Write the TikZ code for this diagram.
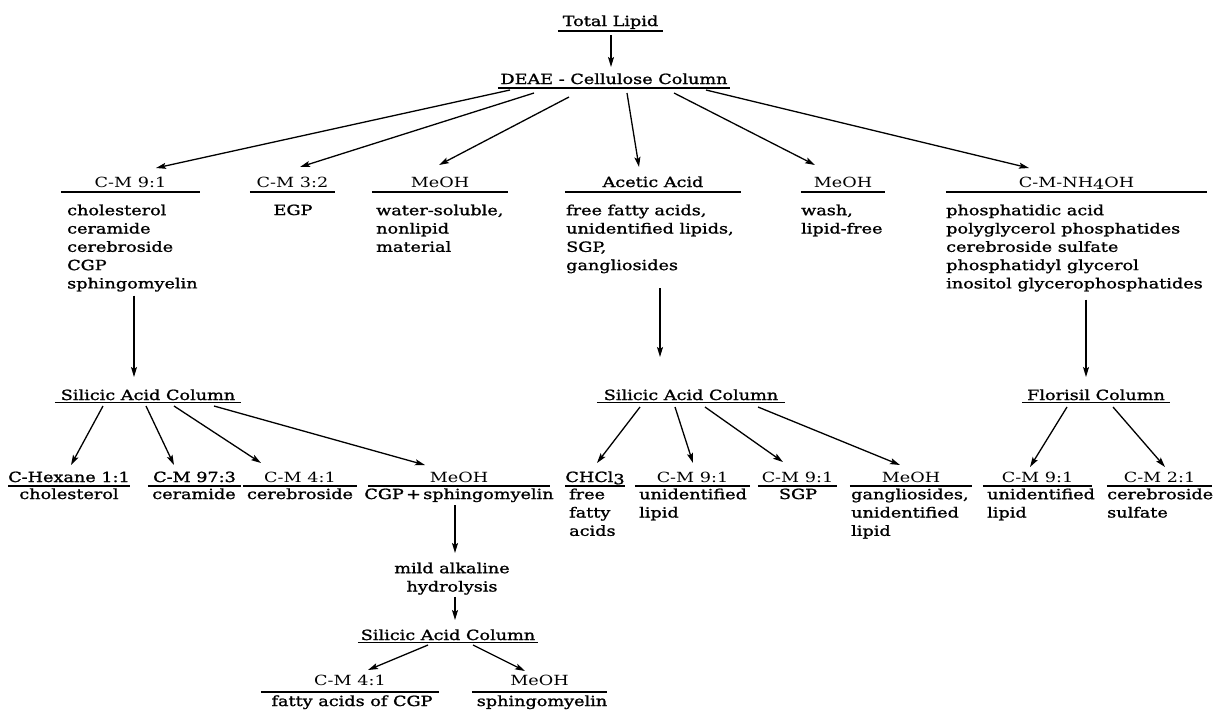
\documentclass[tikz,border=0pt]{standalone}
\usepackage{fontspec}
\newfontfamily\df{DejaVu Serif}[FakeStretch=1.26]
\newfontfamily\dfb{DejaVu Serif}[FakeStretch=1.26,FakeBold=1.3]
\usetikzlibrary{arrows.meta,calc}
\newcommand\fs{\dfb\fontsize{14}{18.3}\selectfont}
\newcommand\fl{\df\fontsize{14}{18.3}\selectfont}
\newcommand\st{\rule{0pt}{12pt}}
\newcommand\ulin[2]{\draw[uline] ([yshift=-#2]#1.base west) -- ([yshift=-#2]#1.base east);}
\begin{document}
\begin{tikzpicture}[x=1pt,y=-1pt,
  txt/.style={font=\fs, inner sep=0pt},
  hd/.style={txt, anchor=base},
  lt/.style={font=\fl},
  bl/.style={txt, anchor=north west, align=left},
  bc/.style={txt, anchor=north, align=center},
  arr/.style={-{Stealth[length=10pt,width=6pt,inset=2pt]}, line width=1.3pt},
  uline/.style={line width=1.6pt}]
\useasboundingbox (0,0) rectangle (1214,710);

% top
\node[hd, minimum width=105pt] (tl) at (610.5,26) {Total Lipid};
\ulin{tl}{5pt}
\node[hd, minimum width=232pt] (dea) at (614,84) {DEAE - Cellulose Column};
\ulin{dea}{4pt}
\draw[arr] ($(tl.base)+(0.5,9)$) -- ($(dea.base)+(-3,-17)$);

% row 2 headers
\node[hd, lt, minimum width=139pt] (h1) at (130.5,187) {C-M 9:1};
\node[hd, lt, minimum width=85pt]  (h2) at (292.5,187) {C-M 3:2};
\node[hd, lt, minimum width=136pt] (h3) at (440,187) {MeOH};
\node[hd, minimum width=176pt] (h4) at (653,187) {Acetic Acid};
\node[hd, lt, minimum width=84pt]  (h5) at (843,187) {MeOH};
\node[hd, lt, minimum width=261pt] (h6) at (1076.5,187) {C-M-NH\raisebox{-0.3ex}{4}OH};
\foreach \n in {h1,h2,h3,h4,h5,h6} {\ulin{\n}{5pt}}

\draw[arr] ($(dea.base)+(-104,6)$) -- ($(h1.base)+(25.5,-19)$);
\draw[arr] ($(dea.base)+(-80,9)$)  -- ($(h2.base)+(7.5,-20)$);
\draw[arr] ($(dea.base)+(-45,13)$) -- ($(h3.base)+(-1,-22)$);
\draw[arr] ($(dea.base)+(13,9)$)   -- ($(h4.base)+(-14,-20)$);
\draw[arr] ($(dea.base)+(60,9)$)   -- ($(h5.base)+(-28,-22)$);
\draw[arr] ($(dea.base)+(92,6)$)   -- ($(h6.base)+(-47.5,-19)$);

% row 2 bodies
\node[bl] (b1) at (67,203) {\st cholesterol\\ceramide\\cerebroside\\CGP\\sphingomyelin};
\node[hd] (b2) at (293,215) {EGP};
\node[bl] (b3) at (376,203) {\st water-soluble,\\nonlipid\\material};
\node[bl] (b4) at (566,203) {\st free fatty acids,\\unidentified lipids,\\SGP,\\gangliosides};
\node[bl] (b5) at (801,203) {\st wash,\\lipid-free};
\node[bl] (b6) at (946,203) {\st phosphatidic acid\\polyglycerol phosphatides\\cerebroside sulfate\\phosphatidyl glycerol\\inositol glycerophosphatides};

% columns
\node[hd, minimum width=186pt] (s1) at (148,400) {Silicic Acid Column};
\node[hd, minimum width=188pt] (s2) at (691,400) {Silicic Acid Column};
\node[hd, minimum width=148pt] (fl) at (1096,400) {Florisil Column};
\foreach \n in {s1,s2,fl} {\ulin{\n}{2.5pt}}

\draw[arr] ($(b1.south west)+(67,4)$) -- ($(s1.base)+(-14,-23)$);
\draw[arr] ($(b4.south west)+(94,15)$) -- ($(s2.base)+(-31,-43)$);
\draw[arr] ($(b6.south west)+(140,8)$) -- ($(fl.base)+(-10,-23)$);

% row 3 headers
\node[hd, minimum width=118pt] (r1) at (69,482) {C-Hexane 1:1};
\node[hd, minimum width=93pt]  (r2) at (194.5,482) {C-M 97:3};
\node[hd, lt, minimum width=114pt] (r3) at (300,482) {C-M 4:1};
\node[hd, lt, minimum width=182pt] (r4) at (459,482) {MeOH};
\node[hd, minimum width=56pt]  (r5) at (595,482) {CHCl\raisebox{-0.3ex}{3}};
\node[hd, lt, minimum width=115pt] (r6) at (692.5,482) {C-M 9:1};
\node[hd, lt, minimum width=79pt]  (r7) at (797.5,482) {C-M 9:1};
\node[hd, lt, minimum width=122pt] (r8) at (911,482) {MeOH};
\node[hd, lt, minimum width=109pt] (r9) at (1037.5,482) {C-M 9:1};
\node[hd, lt, minimum width=105pt] (r10) at (1159.5,482) {C-M 2:1};
\foreach \n in {r1,r2,r3,r4,r5,r6,r7,r8,r9,r10} {\ulin{\n}{4pt}}

\draw[arr] ($(s1.base)+(-45,6)$) -- ($(r1.base)+(2,-17)$);
\draw[arr] ($(s1.base)+(-2,6)$)  -- ($(r2.base)+(-20.5,-17)$);
\draw[arr] ($(s1.base)+(26,6)$)  -- ($(r3.base)+(-39,-19)$);
\draw[arr] ($(s1.base)+(66,6)$)  -- ($(r4.base)+(-34,-17)$);
\draw[arr] ($(s2.base)+(-51,7)$) -- ($(r5.base)+(2,-19)$);
\draw[arr] ($(s2.base)+(-16,7)$) -- ($(r6.base)+(0.5,-19)$);
\draw[arr] ($(s2.base)+(14,7)$)  -- ($(r7.base)+(-14.5,-20)$);
\draw[arr] ($(s2.base)+(67,7)$)  -- ($(r8.base)+(-11,-17)$);
\draw[arr] ($(fl.base)+(-29,7)$) -- ($(r9.base)+(-7.5,-15)$);
\draw[arr] ($(fl.base)+(17,7)$)  -- ($(r10.base)+(5.5,-15)$);

% row 3 bodies
\node[hd] (c1) at (69,499) {cholesterol};
\node[hd] (c2) at (194,499) {ceramide};
\node[hd] (c3) at (300,499) {cerebroside};
\node[hd] (c4) at (459,499) {CGP\,+\,sphingomyelin};
\node[bl] (c5) at (569,487) {\st free\\fatty\\acids};
\node[bl] (c6) at (639,487) {\st unidentified\\lipid};
\node[hd] (c7) at (798,499) {SGP};
\node[bl] (c8) at (851,487) {\st gangliosides,\\unidentified\\lipid};
\node[bl] (c9) at (987,487) {\st unidentified\\lipid};
\node[bl] (c10) at (1107,487) {\st cerebroside\\sulfate};

% bottom branch
\node[bc] (ma) at (452,561) {\st mild alkaline\\hydrolysis};
\draw[arr] ($(c4.base)+(-4,6)$) -- ($(ma.north)+(3,-8)$);
\node[hd, minimum width=180pt] (s3) at (448,640) {Silicic Acid Column};
\ulin{s3}{2.5pt}
\draw[arr] ($(ma.south)+(3,2)$) -- ($(s3.base)+(7,-20)$);
\node[hd, lt, minimum width=178pt] (d1) at (350,685) {C-M 4:1};
\node[hd, lt, minimum width=135pt] (d2) at (539.5,685) {MeOH};
\foreach \n in {d1,d2} {\ulin{\n}{7pt}}
\draw[arr] ($(s3.base)+(-20,5)$) -- ($(d1.base)+(18,-15)$);
\draw[arr] ($(s3.base)+(25,5)$)  -- ($(d2.base)+(-14.5,-14)$);
\node[hd] (e1) at (352,706) {fatty acids of CGP};
\node[hd] (e2) at (542,706) {sphingomyelin};
\end{tikzpicture}
\end{document}
